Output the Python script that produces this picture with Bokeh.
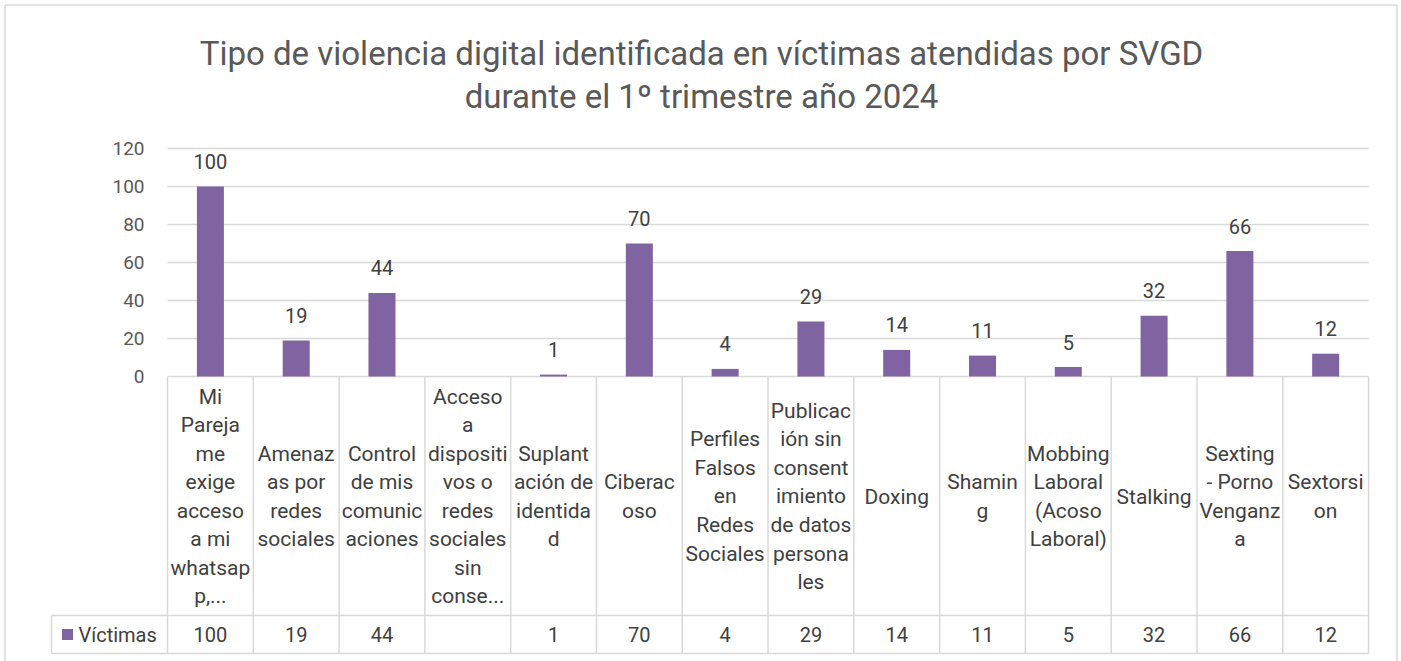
from bokeh.plotting import figure
from bokeh.models import Range1d
from bokeh.core.properties import value
from bokeh.embed import file_html
from bokeh.resources import INLINE

# ---------------- data ----------------
title_lines = [
    "Tipo de violencia digital identificada en víctimas atendidas por SVGD",
    "durante el 1º trimestre año 2024",
]
categories = [
    "Mi\nPareja\nme\nexige\nacceso\na mi\nwhatsap\np,...",
    "Amenaz\nas por\nredes\nsociales",
    "Control\nde mis\ncomunic\naciones",
    "Acceso\na\ndispositi\nvos o\nredes\nsociales\nsin\nconse...",
    "Suplant\nación de\nidentida\nd",
    "Ciberac\noso",
    "Perfiles\nFalsos\nen\nRedes\nSociales",
    "Publicac\nión sin\nconsent\nimiento\nde datos\npersona\nles",
    "Doxing",
    "Shamin\ng",
    "Mobbing\nLaboral\n(Acoso\nLaboral)",
    "Stalking",
    "Sexting\n- Porno\nVenganz\na",
    "Sextorsi\non",
]
victimas = [100, 19, 44, None, 1, 70, 4, 29, 14, 11, 5, 32, 66, 12]
y_ticks = [0, 20, 40, 60, 80, 100, 120]
series_name = "Víctimas"

# ---------------- layout (page pixels) ----------------
W, H = 1401, 661
OFF = 0
PX_LEFT = 167.0
COL_W = 85.79
PX_ZERO = 376.0
PX_PER_UNIT = 1.9
FONT = "Roboto"
BAR_COLOR = "#8064A2"
LINE_COLOR = "#d9d9d9"
TEXT_DARK = "#404040"
TEXT_MID = "#595959"


def dx(px):
    return (px - PX_LEFT) / COL_W


def dy(py):
    return (PX_ZERO - py) / PX_PER_UNIT


n = len(categories)
centers = [i + 0.5 for i in range(n)]

p = figure(
    width=W, height=H,
    x_range=Range1d(dx(OFF), dx(OFF + W)),
    y_range=Range1d(dy(OFF + H), dy(OFF)),
    output_backend="svg", toolbar_location=None, tools="",
    min_border=0, x_axis_location=None, y_axis_location=None,
)
p.grid.visible = False
p.outline_line_color = None
p.background_fill_color = "white"
p.border_fill_color = "white"

# outer chart border (left, top, right)
p.segment(x0=[dx(4.5), dx(4.5), dx(1396.5)],
          y0=[dy(H), dy(4.5), dy(4.5)],
          x1=[dx(4.5), dx(1396.5), dx(1396.5)],
          y1=[dy(4.5), dy(4.5), dy(H)],
          line_color=LINE_COLOR, line_width=1.5)

# title
p.text(x=[dx(701)], y=[dy(74.5)], text=["\n".join(title_lines)],
       text_align="center", text_baseline="middle",
       text_font=value(FONT), text_font_size="33px",
       text_line_height=1.12, text_color=TEXT_MID)

# gridlines
p.segment(x0=[0] * len(y_ticks), x1=[n] * len(y_ticks), y0=y_ticks, y1=y_ticks,
          line_color=LINE_COLOR, line_width=1.5)

# y tick labels
p.text(x=[dx(144)] * len(y_ticks), y=y_ticks, text=[str(t) for t in y_ticks],
       text_align="right", text_baseline="middle",
       text_font=value(FONT), text_font_size="19px", text_color=TEXT_MID)

# bars
tops = [float("nan") if v is None else v for v in victimas]
p.vbar(x=centers, top=tops, bottom=0, width=0.315, fill_color=BAR_COLOR,
       line_color=None)

# data labels
lab_x = [c for c, v in zip(centers, victimas) if v is not None]
lab_y = [v + 25 / PX_PER_UNIT for v in victimas if v is not None]
lab_t = [str(v) for v in victimas if v is not None]
p.text(x=lab_x, y=lab_y, text=lab_t, text_align="center", text_baseline="middle",
       text_font=value(FONT), text_font_size="20px", text_color=TEXT_DARK)

# data table lines
ROW1 = dy(615)
ROW2 = dy(653)
p.segment(x0=[i for i in range(n + 1)], x1=[i for i in range(n + 1)],
          y0=[0] * (n + 1), y1=[ROW2] * (n + 1), line_color=LINE_COLOR, line_width=1.5)
p.segment(x0=[dx(51), dx(51), dx(51)], x1=[n, n, dx(51)],
          y0=[ROW1, ROW2, ROW1], y1=[ROW1, ROW2, ROW2],
          line_color=LINE_COLOR, line_width=1.5)

# category labels in header row
p.text(x=centers, y=[dy(496)] * n, text=categories,
       text_align="center", text_baseline="middle",
       text_font=value(FONT), text_font_size="21px",
       text_line_height=1.19, text_color=TEXT_DARK)

# values row
p.text(x=centers, y=[dy(634)] * n,
       text=["" if v is None else str(v) for v in victimas],
       text_align="center", text_baseline="middle",
       text_font=value(FONT), text_font_size="20px", text_color=TEXT_DARK)

# legend key in table
p.scatter(x=[dx(67)], y=[dy(634)], marker="square", size=11,
          fill_color=BAR_COLOR, line_color=None)
p.text(x=[dx(78)], y=[dy(634)], text=[series_name], text_align="left",
       text_baseline="middle", text_font=value(FONT), text_font_size="20px",
       text_color=TEXT_DARK)

open("out.html", "w").write(file_html(p, INLINE))
